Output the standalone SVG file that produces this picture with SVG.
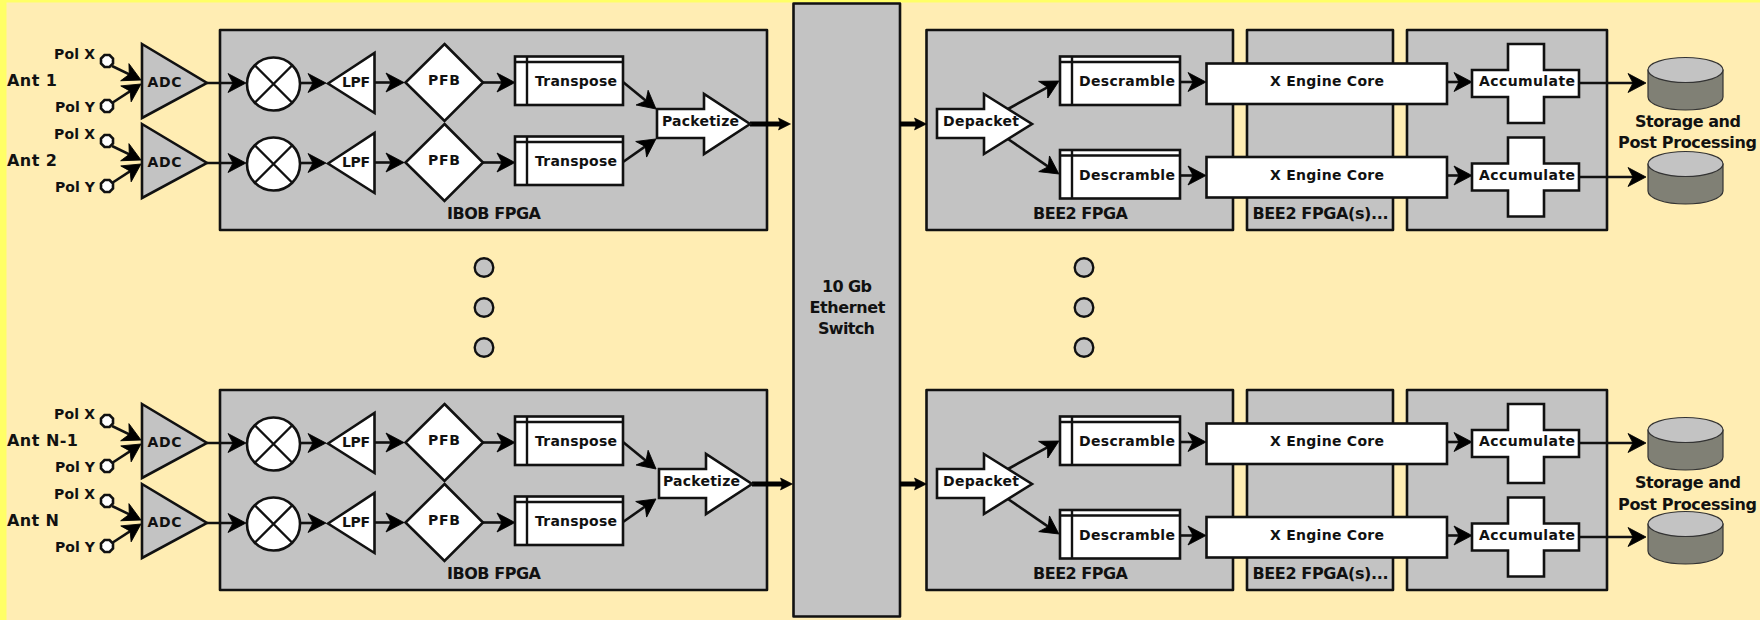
<svg xmlns="http://www.w3.org/2000/svg" width="1760" height="620" viewBox="0 0 1760 620">
<style>
text{font-family:"DejaVu Sans","Liberation Sans",sans-serif;font-weight:700;fill:#111}
.s14{font-size:14px}.s16{font-size:16px}
.box{fill:#c3c3c3;stroke:#111;stroke-width:2.6;stroke-linejoin:round}
.w{fill:#fff;stroke:#111;stroke-width:2.6;stroke-linejoin:miter}
.g{fill:#c3c3c3;stroke:#111;stroke-width:2.6}
.l{fill:none;stroke:#111;stroke-width:2.4}
.lc{fill:none;stroke:#111;stroke-width:2.6;marker-end:url(#ah)}
.lt{fill:none;stroke:#000;stroke-width:5;marker-end:url(#th)}
.dot{fill:#c3c3c3;stroke:#111;stroke-width:2.4}
.side{fill:#808075;stroke:#333;stroke-width:1.2}
.top{fill:#c3c3c3;stroke:#333;stroke-width:1.2}
</style>
<defs>
<marker id="ah" markerUnits="userSpaceOnUse" markerWidth="22" markerHeight="24" refX="13" refY="11" orient="auto"><path d="M19,11 L1,1.500 L6,11 L1,20.500z" fill="#000" stroke="#000" stroke-width=".8"/></marker>
<marker id="th" markerUnits="userSpaceOnUse" markerWidth="16" markerHeight="16" refX="6" refY="8" orient="auto"><path d="M12.500,8 L.5,2 L2.500,8 L.5,14z" fill="#000" stroke="#000" stroke-width=".6"/></marker>
<polygon id="pol" class="w" points="104.500,55 109.500,55 113,58.500 113,63.500 109.500,67 104.500,67 101,63.500 101,58.500"/>
<polygon id="adcS" class="g" points="142,44 207,83 142,118"/>
<g id="mixS"><circle class="w" cx="273.500" cy="84" r="26.500"/><path class="l" d="M255,65.500L292,102.500M292,65.500L255,102.500"/></g>
<polygon id="lpfS" class="w" points="328,83.500 374.500,53 374.500,113"/>
<polygon id="pfbS" class="w" points="444.500,44 483,82.500 444.500,121 405.500,82.500"/>
<g id="trS"><rect class="w" x="515" y="56.500" width="108" height="48.500"/><path class="l" d="M515,62H623M527,56.500V105"/></g>
<polygon id="pkS" class="w" points="657,109 704,109 704,94 750,124 704,154 704,138 657,138"/>
<polygon id="dpS" class="w" points="937,109 984,109 984,94 1032,124 984,154 984,138 937,138"/>
<g id="dsS"><rect class="w" x="1060" y="56.500" width="120" height="48.500"/><path class="l" d="M1060,62H1180M1072,56.500V105"/></g>
<rect id="xS" class="w" x="1206.500" y="63.500" width="240.500" height="40.500"/>
<polygon id="acS" class="w" points="1508,44 1544,44 1544,70 1579,70 1579,97 1544,97 1544,123 1508,123 1508,97 1472,97 1472,70 1508,70"/>
<g id="cyS"><path class="side" d="M1648,70V97A37.500,13 0 0 0 1723,97V70z"/><ellipse class="top" cx="1685.500" cy="70" rx="37.500" ry="12.500"/></g>
</defs>
<rect width="1760" height="620" fill="#ffff66"/>
<rect x="6.500" y="2.500" width="1754" height="618" fill="#ffedb3"/>

<g id="fpga-ibob-top"><rect class="box" x="220" y="30" width="547" height="200"/><text class="s16" x="447" y="218.700" textLength="94">IBOB FPGA</text></g>
<g id="fpga-bee2-top"><rect class="box" x="926.500" y="30" width="306.500" height="200"/><text class="s16" x="1033" y="218.700" textLength="95">BEE2 FPGA</text></g>
<g id="fpga-bee2s-top"><rect class="box" x="1247" y="30" width="146" height="200"/><text class="s16" x="1252.500" y="218.700" textLength="136">BEE2 FPGA(s)...</text></g>
<g id="fpga-acc-top"><rect class="box" x="1407" y="30" width="200" height="200"/></g>
<g id="fpga-ibob-bot"><rect class="box" x="220" y="390" width="547" height="200"/><text class="s16" x="447" y="578.700" textLength="94">IBOB FPGA</text></g>
<g id="fpga-bee2-bot"><rect class="box" x="926.500" y="390" width="306.500" height="200"/><text class="s16" x="1033" y="578.700" textLength="95">BEE2 FPGA</text></g>
<g id="fpga-bee2s-bot"><rect class="box" x="1247" y="390" width="146" height="200"/><text class="s16" x="1252.500" y="578.700" textLength="136">BEE2 FPGA(s)...</text></g>
<g id="fpga-acc-bot"><rect class="box" x="1407" y="390" width="200" height="200"/></g>

<g id="switch"><rect class="box" x="793.500" y="3.500" width="106.500" height="613"/>
<text class="s16" x="822" y="292" textLength="50">10 Gb</text><text class="s16" x="809.500" y="313" textLength="76">Ethernet</text><text class="s16" x="818" y="334" textLength="57">Switch</text></g>

<g id="connectors">
<path class="lc" d="M112,66L135.600,77.400"/><path class="lc" d="M112,103L136,87.300"/><path class="lc" d="M207,83H240"/><path class="lc" d="M300,83H320"/><path class="lc" d="M375,82.500H398"/><path class="lc" d="M483,82.500H509"/><path class="lc" d="M623,82L651.400,105.200"/>
<path class="lc" d="M112,146L135.600,157.400"/><path class="lc" d="M112,183L136,167.300"/><path class="lc" d="M207,163H240"/><path class="lc" d="M300,163H320"/><path class="lc" d="M375,162.500H398"/><path class="lc" d="M483,162.500H509"/><path class="lc" d="M623,162L651,142.400"/>
<path class="lc" d="M112,426L135.600,437.400"/><path class="lc" d="M112,463L136,447.300"/><path class="lc" d="M207,443H240"/><path class="lc" d="M300,443H320"/><path class="lc" d="M375,442.500H398"/><path class="lc" d="M483,442.500H509"/><path class="lc" d="M623,442L651.400,465.200"/>
<path class="lc" d="M112,506L135.600,517.400"/><path class="lc" d="M112,543L136,527.300"/><path class="lc" d="M207,523H240"/><path class="lc" d="M300,523H320"/><path class="lc" d="M375,522.500H398"/><path class="lc" d="M483,522.500H509"/><path class="lc" d="M623,522L651,502.400"/>
<path class="lt" d="M750,124H784"/><path class="lt" d="M900,124H920"/><path class="lt" d="M752,484H786"/><path class="lt" d="M900,484H920"/>
<path class="lc" d="M1008,109L1053.700,83.900"/><path class="lc" d="M1008,139L1054,170.600"/><path class="lc" d="M1180,82H1200"/><path class="lc" d="M1180,175.500H1200"/><path class="lc" d="M1447,82H1466"/><path class="lc" d="M1447,175.500H1466"/><path class="lc" d="M1579,83H1640"/><path class="lc" d="M1579,177H1640"/>
<path class="lc" d="M1008,469L1053.700,443.900"/><path class="lc" d="M1008,499L1054,530.600"/><path class="lc" d="M1180,442H1200"/><path class="lc" d="M1180,535.500H1200"/><path class="lc" d="M1447,442H1466"/><path class="lc" d="M1447,535.500H1466"/><path class="lc" d="M1579,443H1640"/><path class="lc" d="M1579,537H1640"/>
</g>

<g id="ant1"><text class="s16" x="7" y="85.700" textLength="50">Ant 1</text></g>
<g id="ant2"><text class="s16" x="7" y="165.700" textLength="50">Ant 2</text></g>
<g id="antn1"><text class="s16" x="7" y="445.700" textLength="71">Ant N-1</text></g>
<g id="antn"><text class="s16" x="7" y="525.700" textLength="52">Ant N</text></g>

<g id="polx1"><use href="#pol"/><text class="s14" x="54" y="58.700" textLength="41">Pol X</text></g>
<g id="poly1" transform="translate(0,45)"><use href="#pol"/><text class="s14" x="55" y="66.900" textLength="40">Pol Y</text></g>
<g id="polx2" transform="translate(0,80)"><use href="#pol"/><text class="s14" x="54" y="58.700" textLength="41">Pol X</text></g>
<g id="poly2" transform="translate(0,125)"><use href="#pol"/><text class="s14" x="55" y="66.900" textLength="40">Pol Y</text></g>
<g id="polx3" transform="translate(0,360)"><use href="#pol"/><text class="s14" x="54" y="58.700" textLength="41">Pol X</text></g>
<g id="poly3" transform="translate(0,405)"><use href="#pol"/><text class="s14" x="55" y="66.900" textLength="40">Pol Y</text></g>
<g id="polx4" transform="translate(0,440)"><use href="#pol"/><text class="s14" x="54" y="58.700" textLength="41">Pol X</text></g>
<g id="poly4" transform="translate(0,485)"><use href="#pol"/><text class="s14" x="55" y="66.900" textLength="40">Pol Y</text></g>

<g id="adc1"><use href="#adcS"/><text class="s14" x="147.500" y="86.500" textLength="34">ADC</text></g>
<g id="adc2" transform="translate(0,80)"><use href="#adcS"/><text class="s14" x="147.500" y="86.500" textLength="34">ADC</text></g>
<g id="adc3" transform="translate(0,360)"><use href="#adcS"/><text class="s14" x="147.500" y="86.500" textLength="34">ADC</text></g>
<g id="adc4" transform="translate(0,440)"><use href="#adcS"/><text class="s14" x="147.500" y="86.500" textLength="34">ADC</text></g>

<g id="mix1"><use href="#mixS"/></g>
<g id="mix2" transform="translate(0,80)"><use href="#mixS"/></g>
<g id="mix3" transform="translate(0,360)"><use href="#mixS"/></g>
<g id="mix4" transform="translate(0,440)"><use href="#mixS"/></g>

<g id="lpf1"><use href="#lpfS"/><text class="s14" x="342" y="86.500" textLength="28">LPF</text></g>
<g id="lpf2" transform="translate(0,80)"><use href="#lpfS"/><text class="s14" x="342" y="86.500" textLength="28">LPF</text></g>
<g id="lpf3" transform="translate(0,360)"><use href="#lpfS"/><text class="s14" x="342" y="86.500" textLength="28">LPF</text></g>
<g id="lpf4" transform="translate(0,440)"><use href="#lpfS"/><text class="s14" x="342" y="86.500" textLength="28">LPF</text></g>

<g id="pfb1"><use href="#pfbS"/><text class="s14" x="428" y="84.500" textLength="32">PFB</text></g>
<g id="pfb2" transform="translate(0,80)"><use href="#pfbS"/><text class="s14" x="428" y="84.500" textLength="32">PFB</text></g>
<g id="pfb3" transform="translate(0,360)"><use href="#pfbS"/><text class="s14" x="428" y="84.500" textLength="32">PFB</text></g>
<g id="pfb4" transform="translate(0,440)"><use href="#pfbS"/><text class="s14" x="428" y="84.500" textLength="32">PFB</text></g>

<g id="tr1"><use href="#trS"/><text class="s14" x="535" y="86" textLength="82">Transpose</text></g>
<g id="tr2" transform="translate(0,80)"><use href="#trS"/><text class="s14" x="535" y="86" textLength="82">Transpose</text></g>
<g id="tr3" transform="translate(0,360)"><use href="#trS"/><text class="s14" x="535" y="86" textLength="82">Transpose</text></g>
<g id="tr4" transform="translate(0,440)"><use href="#trS"/><text class="s14" x="535" y="86" textLength="82">Transpose</text></g>

<g id="pk1"><use href="#pkS"/><text class="s14" x="662" y="126" textLength="77">Packetize</text></g>
<g id="pk2" transform="translate(2,360)"><use href="#pkS"/><text class="s14" x="661" y="126" textLength="77">Packetize</text></g>

<g id="dp1"><use href="#dpS"/><text class="s14" x="943" y="126" textLength="76">Depacket</text></g>
<g id="dp2" transform="translate(0,360)"><use href="#dpS"/><text class="s14" x="943" y="126" textLength="76">Depacket</text></g>

<g id="ds1"><use href="#dsS"/><text class="s14" x="1079" y="86" textLength="96">Descramble</text></g>
<g id="ds2" transform="translate(0,93.500)"><use href="#dsS"/><text class="s14" x="1079" y="86" textLength="96">Descramble</text></g>
<g id="ds3" transform="translate(0,360)"><use href="#dsS"/><text class="s14" x="1079" y="86" textLength="96">Descramble</text></g>
<g id="ds4" transform="translate(0,453.500)"><use href="#dsS"/><text class="s14" x="1079" y="86" textLength="96">Descramble</text></g>

<g id="x1"><use href="#xS"/><text class="s14" x="1270" y="86" textLength="114">X Engine Core</text></g>
<g id="x2" transform="translate(0,93.500)"><use href="#xS"/><text class="s14" x="1270" y="86" textLength="114">X Engine Core</text></g>
<g id="x3" transform="translate(0,360)"><use href="#xS"/><text class="s14" x="1270" y="86" textLength="114">X Engine Core</text></g>
<g id="x4" transform="translate(0,453.500)"><use href="#xS"/><text class="s14" x="1270" y="86" textLength="114">X Engine Core</text></g>

<g id="ac1"><use href="#acS"/><text class="s14" x="1479" y="86" textLength="96">Accumulate</text></g>
<g id="ac2" transform="translate(0,93.500)"><use href="#acS"/><text class="s14" x="1479" y="86" textLength="96">Accumulate</text></g>
<g id="ac3" transform="translate(0,360)"><use href="#acS"/><text class="s14" x="1479" y="86" textLength="96">Accumulate</text></g>
<g id="ac4" transform="translate(0,453.500)"><use href="#acS"/><text class="s14" x="1479" y="86" textLength="96">Accumulate</text></g>

<g id="cy1"><use href="#cyS"/></g>
<g id="cy2" transform="translate(0,94)"><use href="#cyS"/></g>
<g id="cy3" transform="translate(0,360)"><use href="#cyS"/></g>
<g id="cy4" transform="translate(0,454)"><use href="#cyS"/></g>
<g id="storage-top"><text class="s16" x="1635" y="127" textLength="106">Storage and</text><text class="s16" x="1618" y="148" textLength="139">Post Processing</text></g>
<g id="storage-bot"><text class="s16" x="1635" y="488" textLength="106">Storage and</text><text class="s16" x="1618" y="509.500" textLength="139">Post Processing</text></g>

<g id="dots-left"><circle class="dot" cx="484" cy="267.500" r="9.300"/><circle class="dot" cx="484" cy="307.500" r="9.300"/><circle class="dot" cx="484" cy="347.500" r="9.300"/></g>
<g id="dots-right"><circle class="dot" cx="1084" cy="267.500" r="9.300"/><circle class="dot" cx="1084" cy="307.500" r="9.300"/><circle class="dot" cx="1084" cy="347.500" r="9.300"/></g>
</svg>
